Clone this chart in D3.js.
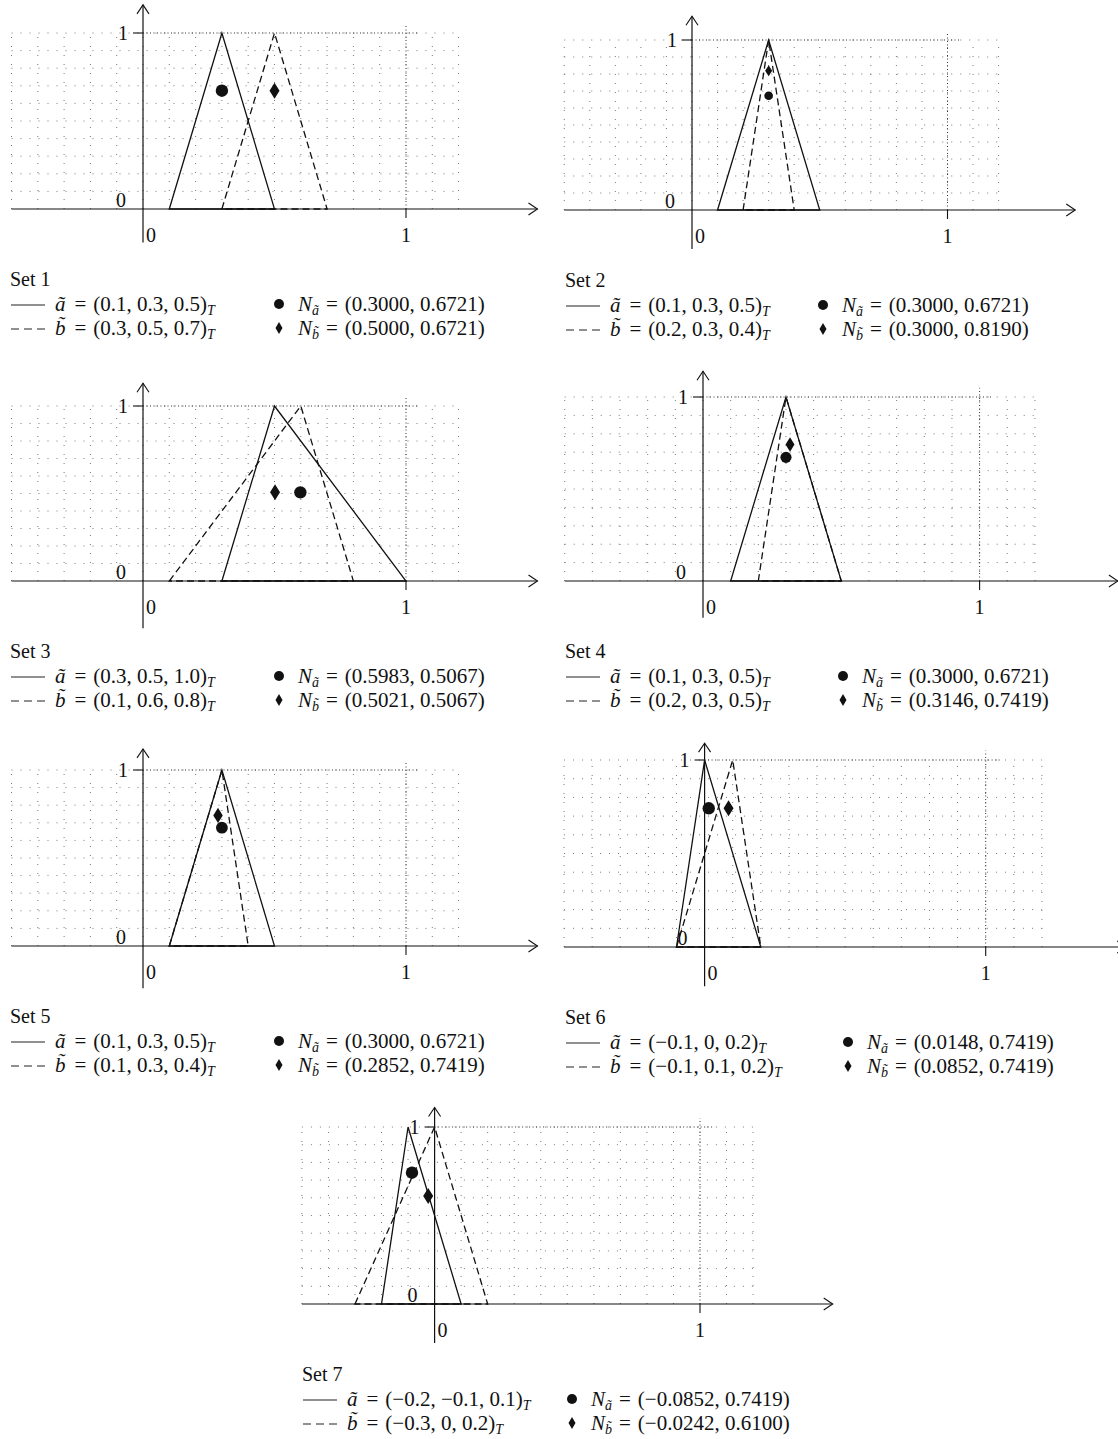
<!DOCTYPE html>
<html>
<head>
<meta charset="utf-8">
<script src="https://cdn.jsdelivr.net/npm/d3@7"></script>
<style>
  body { margin: 0; background: #fff; }
  svg { display: block; font-family: "Liberation Serif", "DejaVu Serif", serif; }
</style>
</head>
<body>
<svg width="1118" height="1439"></svg>
<script>
// values
const setNames = ["Set 1", "Set 2", "Set 3", "Set 4", "Set 5", "Set 6", "Set 7"];
// triangular numbers (left, peak, right)
const aTriples = [[0.1, 0.3, 0.5], [0.1, 0.3, 0.5], [0.3, 0.5, 1.0], [0.1, 0.3, 0.5], [0.1, 0.3, 0.5], [-0.1, 0, 0.2], [-0.2, -0.1, 0.1]];
const bTriples = [[0.3, 0.5, 0.7], [0.2, 0.3, 0.4], [0.1, 0.6, 0.8], [0.2, 0.3, 0.5], [0.1, 0.3, 0.4], [-0.1, 0.1, 0.2], [-0.3, 0, 0.2]];
// N points (x, y)
const aPoints = [[0.3000, 0.6721], [0.3000, 0.6721], [0.5983, 0.5067], [0.3000, 0.6721], [0.3000, 0.6721], [0.0148, 0.7419], [-0.0852, 0.7419]];
const bPoints = [[0.5000, 0.6721], [0.3000, 0.8190], [0.5021, 0.5067], [0.3146, 0.7419], [0.2852, 0.7419], [0.0852, 0.7419], [-0.0242, 0.6100]];
const xTickLabels = ["0", "1"];
const yTickLabels = ["0", "1"];
const gridCols = [-0.5, -0.4, -0.3, -0.2, -0.1, 0, 0.1, 0.2, 0.3, 0.4, 0.5, 0.6, 0.7, 0.8, 0.9, 1.0, 1.1, 1.2];
const gridRows = [0.1, 0.2, 0.3, 0.4, 0.5, 0.6, 0.7, 0.8, 0.9, 1.0];

// where each little plot sits on the page (pixels for 0 and 1 on each axis)
const panels = [
  {x0: 143, x1: 406, y0: 209, y1: 33, top: 1.16, bot: -0.19, lx: 10, nx: 279, ms: 1},
  {x0: 692, x1: 947.5, y0: 210, y1: 40, top: 1.14, bot: -0.23, lx: 565, nx: 823, ms: 0.7},
  {x0: 143, x1: 406, y0: 581, y1: 406, top: 1.13, bot: -0.27, lx: 10, nx: 279, ms: 1},
  {x0: 703, x1: 979.6, y0: 581, y1: 397, top: 1.14, bot: -0.2, lx: 565, nx: 843, ms: 0.9},
  {x0: 143, x1: 406, y0: 946, y1: 770, top: 1.12, bot: -0.24, lx: 10, nx: 279, ms: 0.95},
  {x0: 704.6, x1: 985.7, y0: 947, y1: 760, top: 1.09, bot: -0.21, lx: 565, nx: 848, ms: 1},
  {x0: 434.6, x1: 700, y0: 1304, y1: 1127, top: 1.11, bot: -0.22, lx: 302, nx: 572, ms: 1}
];

var svg = d3.select('svg');
svg.append('rect').attr('width', 1118).attr('height', 1439).attr('fill', '#fff');

function fmt1(v) {
  var s = v === 0 ? '0' : Math.abs(v).toFixed(1);
  return v < 0 ? '\u2212' + s : s;
}
function fmt4(v) {
  var s = Math.abs(v).toFixed(4);
  return v < 0 ? '\u2212' + s : s;
}
function diamond(w, h) {
  return 'M0,' + (-h / 2) + 'L' + (w / 2) + ',0L0,' + (h / 2) + 'L' + (-w / 2) + ',0Z';
}

panels.forEach(function (p, i) {
  const x = d3.scaleLinear().domain([0, 1]).range([p.x0, p.x1]);
  const y = d3.scaleLinear().domain([0, 1]).range([p.y0, p.y1]);
  const g = svg.append('g');

  // dotted background grid
  g.selectAll('.gc').data(gridCols).enter().append('line')
    .attr('x1', d => x(d)).attr('x2', d => x(d))
    .attr('y1', y(0)).attr('y2', y(1))
    .attr('stroke', '#7a7a7a').attr('stroke-width', 1)
    .attr('stroke-dasharray', '1,8');
  g.selectAll('.gr').data(gridRows).enter().append('line')
    .attr('x1', x(-0.5)).attr('x2', x(1.2))
    .attr('y1', d => y(d)).attr('y2', d => y(d))
    .attr('stroke', '#7a7a7a').attr('stroke-width', 1)
    .attr('stroke-dasharray', '1,8');

  // denser dotted lines at y = 1 and x = 1
  g.append('line')
    .attr('x1', x(0)).attr('x2', x(1.05)).attr('y1', y(1)).attr('y2', y(1))
    .attr('stroke', '#333').attr('stroke-width', 1).attr('stroke-dasharray', '1,2.5');
  g.append('line')
    .attr('x1', x(1)).attr('x2', x(1)).attr('y1', y(0)).attr('y2', y(1.05))
    .attr('stroke', '#333').attr('stroke-width', 1).attr('stroke-dasharray', '1,2.5');

  // axes with open arrow heads
  var tipX = x(1.5), tipY = y(p.top);
  g.append('line').attr('x1', x(-0.5)).attr('x2', tipX).attr('y1', y(0)).attr('y2', y(0))
    .attr('stroke', '#111').attr('stroke-width', 1.2);
  g.append('path').attr('d', 'M' + (tipX - 9) + ',' + (y(0) - 6) + 'L' + tipX + ',' + y(0) + 'L' + (tipX - 9) + ',' + (y(0) + 6))
    .attr('fill', 'none').attr('stroke', '#111').attr('stroke-width', 1.1);
  g.append('line').attr('x1', x(0)).attr('x2', x(0)).attr('y1', y(p.bot)).attr('y2', tipY)
    .attr('stroke', '#111').attr('stroke-width', 1.2);
  g.append('path').attr('d', 'M' + (x(0) - 6) + ',' + (tipY + 9) + 'L' + x(0) + ',' + tipY + 'L' + (x(0) + 6) + ',' + (tipY + 9))
    .attr('fill', 'none').attr('stroke', '#111').attr('stroke-width', 1.1);

  // ticks
  g.append('line').attr('x1', x(0) - 10).attr('x2', x(0)).attr('y1', y(1)).attr('y2', y(1))
    .attr('stroke', '#111').attr('stroke-width', 1.1);
  g.append('line').attr('x1', x(1)).attr('x2', x(1)).attr('y1', y(0)).attr('y2', y(0) + 9)
    .attr('stroke', '#111').attr('stroke-width', 1.1);

  // tick labels
  g.selectAll('.yl').data(yTickLabels).enter().append('text')
    .attr('x', (d, k) => x(0) - (k === 0 ? 22 : 20))
    .attr('y', d => y(+d) - (+d === 0 ? 9 : 0))
    .attr('text-anchor', 'middle').attr('dominant-baseline', 'central')
    .attr('font-size', 20).attr('fill', '#111').text(d => d);
  g.selectAll('.xl').data(xTickLabels).enter().append('text')
    .attr('x', d => x(+d) + (+d === 0 ? 8 : 0))
    .attr('y', y(0) + 26)
    .attr('text-anchor', 'middle').attr('dominant-baseline', 'central')
    .attr('font-size', 20).attr('fill', '#111').text(d => d);

  // the two triangles
  const tri = d3.line().x(d => x(d[0])).y(d => y(d[1]));
  const ta = aTriples[i], tb = bTriples[i];
  g.append('path').attr('d', tri([[ta[0], 0], [ta[1], 1], [ta[2], 0]]) + 'Z')
    .attr('fill', 'none').attr('stroke', '#111').attr('stroke-width', 1.3);
  g.append('path').attr('d', tri([[tb[0], 0], [tb[1], 1], [tb[2], 0]]) + 'Z')
    .attr('fill', 'none').attr('stroke', '#111').attr('stroke-width', 1.3)
    .attr('stroke-dasharray', '7,4');

  // N points
  g.append('circle').attr('cx', x(aPoints[i][0])).attr('cy', y(aPoints[i][1]))
    .attr('r', 6.2 * p.ms).attr('fill', '#111');
  g.append('path').attr('d', diamond(10 * p.ms, 16 * p.ms))
    .attr('transform', 'translate(' + x(bPoints[i][0]) + ',' + y(bPoints[i][1]) + ')')
    .attr('fill', '#111');

  // legend under the plot
  var base = p.y0 + 77;
  var l1 = base + 25, l2 = base + 49;
  g.append('text').attr('x', p.lx).attr('y', base).attr('font-size', 20).attr('fill', '#111').text(setNames[i]);

  g.append('line').attr('x1', p.lx + 1).attr('x2', p.lx + 35).attr('y1', l1 - 6).attr('y2', l1 - 6)
    .attr('stroke', '#222').attr('stroke-width', 1.1);
  g.append('line').attr('x1', p.lx + 1).attr('x2', p.lx + 35).attr('y1', l2 - 6).attr('y2', l2 - 6)
    .attr('stroke', '#222').attr('stroke-width', 1.1).attr('stroke-dasharray', '8,5');

  [[l1, 'a\u0303', ta], [l2, 'b\u0303', tb]].forEach(function (r) {
    var t = g.append('text').attr('x', p.lx + 45).attr('y', r[0]).attr('font-size', 21).attr('fill', '#111');
    t.append('tspan').attr('font-style', 'italic').text(r[1]);
    t.append('tspan').attr('dx', 9).text('=');
    t.append('tspan').attr('dx', 7).text('(' + r[2].map(fmt1).join(', ') + ')');
    t.append('tspan').attr('font-style', 'italic').attr('font-size', 14).attr('dy', 4).text('T');
  });

  g.append('circle').attr('cx', p.nx).attr('cy', l1 - 7).attr('r', 5).attr('fill', '#111');
  g.append('path').attr('d', diamond(7, 12)).attr('transform', 'translate(' + p.nx + ',' + (l2 - 7) + ')').attr('fill', '#111');

  [[l1, 'a\u0303', aPoints[i]], [l2, 'b\u0303', bPoints[i]]].forEach(function (r) {
    var t = g.append('text').attr('x', p.nx + 19).attr('y', r[0]).attr('font-size', 21).attr('fill', '#111');
    t.append('tspan').attr('font-style', 'italic').text('N');
    t.append('tspan').attr('font-style', 'italic').attr('font-size', 14).attr('dy', 4).text(r[1]);
    t.append('tspan').attr('dy', -4).attr('dx', 7).text('=');
    t.append('tspan').attr('dx', 7).text('(' + fmt4(r[2][0]) + ', ' + fmt4(r[2][1]) + ')');
  });
});
</script>
</body>
</html>
